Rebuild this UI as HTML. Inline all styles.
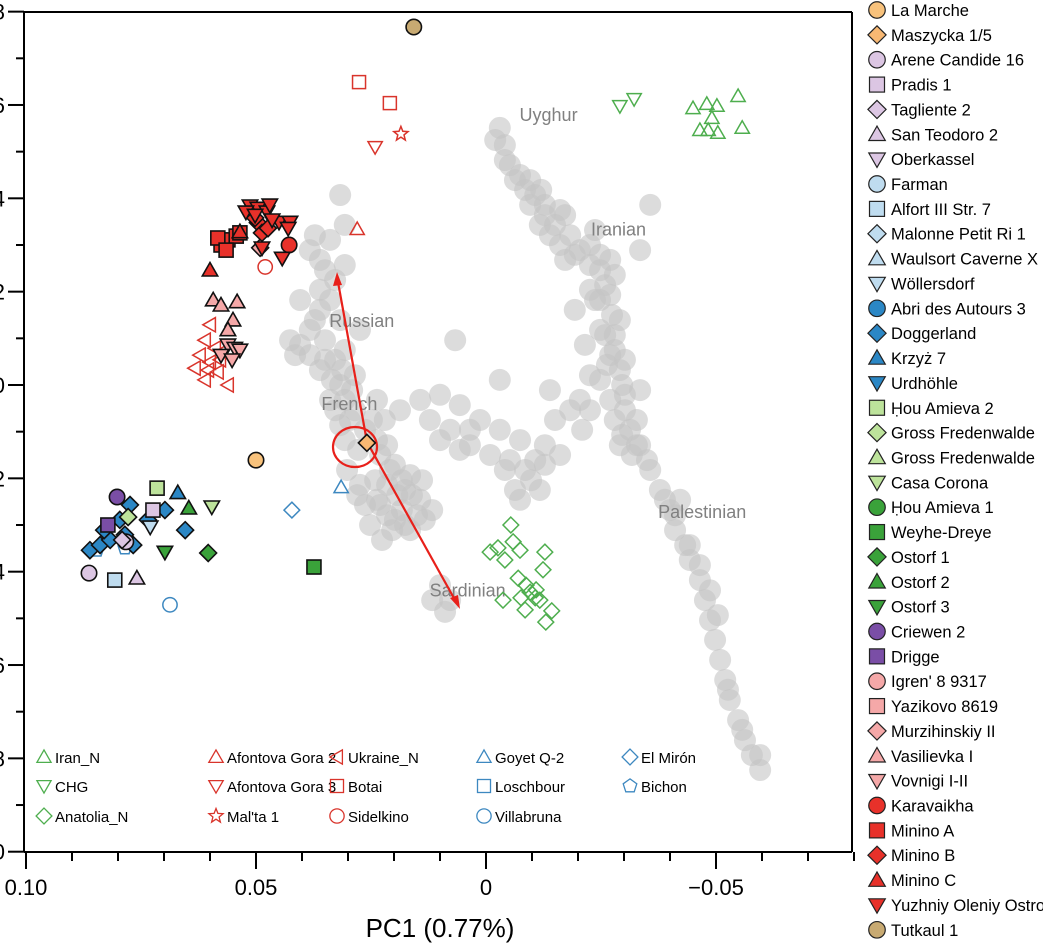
<!DOCTYPE html>
<html><head><meta charset="utf-8"><style>
body{margin:0;background:#fff;}
svg{display:block;font-family:"Liberation Sans",Arial,sans-serif;}
</style></head><body>
<svg id="chart" width="1043" height="946" viewBox="0 0 1043 946" xmlns="http://www.w3.org/2000/svg">
<g id="grey"></g>
<g id="greyLabels"></g>
<g id="anno">
<ellipse cx="355" cy="447" rx="22" ry="20" fill="none" stroke="#e8201a" stroke-width="2.2"/>
<line x1="367" y1="442" x2="338" y2="282" stroke="#e8201a" stroke-width="2.2"/>
<polygon points="337,272 333,286 342,285" fill="#e8201a"/>
<line x1="367" y1="442" x2="455" y2="600" stroke="#e8201a" stroke-width="2.2"/>
<polygon points="460,609 450,598 458,595" fill="#e8201a"/>
</g>
<g id="pts"></g>
<g id="axes"></g>
<g id="legIn"></g>
<g id="legR"></g>
</svg>
<script>
// ---------- data ----------
const xTickValues=[0.10,0.05,0,-0.05];
const xTickLabels=["0.10","0.05","0","\u22120.05"];
const yTickValues=[0.08,0.06,0.04,0.02,0,-0.02,-0.04,-0.06,-0.08,-0.10];
const yTickLabels=["0.08","0.06","0.04","0.02","0","\u22120.02","\u22120.04","\u22120.06","\u22120.08","\u22120.10"];
// grey cloud (PC1, PC2 in thousandths)
const greyPC1=[-3.0,-4.1,-5.2,-6.3,-8.5,-10.7,-12.8,-11.7,-13.9,-16.1,-17.2,-19.3,-22.6,-24.8,-27.0,-25.9,-24.8,-27.4,-25.9,-28.0,-29.1,-30.2,-28.0,-31.3,-33.5,-29.1,-22.6,-35.7,-33.5,-19.3,-21.5,-22.6,-24.8,-33.5,-23.7,
-35.7,-37.8,-40.0,-41.1,-43.3,-44.3,-46.5,-47.6,-48.7,-49.8,-50.9,-52.0,-53.0,-54.8,-56.3,-57.8,-59.6,-42.2,
-7.4,-5.2,-8.5,-10.7,-12.8,-16.1,-15.0,-18.3,-20.4,-3.0,1.3,5.7,10.0,14.3,18.7,22.0,7.8,3.5,-11.7,-7.4,-13.9,-3.0,3.5,
31.7,30.7,33.9,35.0,36.1,33.9,40.4,37.2,40.4,35.0,32.8,36.1,31.7,30.7,32.8,29.6,26.3,30.7,27.8,23.0,19.8,16.5,17.6,14.3,13.3,16.5,19.8,23.0,26.3,25.2,27.4,24.1,37.2,30.7,27.4,28.5,23.7,
10.0,7.8,8.9,11.7,38.3,6.7,
-2.0,-4.1,-7.4,-9.6,-12.0,-9.6,-12.8,-15.0,-16.1,-18.3,-20.4,-17.2,-22.6,-24.8,-28.0,-23.7,-27.0,-29.1,-24.8,-28.0,-27.0,-30.2,-26.3,-29.6,-27.0,-30.2,-32.8,-29.6,-32.8,-35.0,-31.7,
-38.9,-41.1,-44.3,-46.5,-48.7,-50.4,-52.6,-55.7,-59.6,
36.1,32.8,36.1,31.7,38.3,42.6,41.5,38.3,35.0,30.7,33.5,31.3,29.1,33.9,28.5,31.7,24.8,23.7,21.5,
20.9,18.3,16.1,19.3,21.5,13.9,15.0,18.3,21.5,23.7,20.4,17.6,11.7,22.6,28.0,30.2,
12.2,10.0,5.7,-0.9,-4.1,-9.8,-6.3,-12.8,-20.9,-22.6];
const greyPC2=[55.1,51.4,47.1,43.9,41.8,40.7,38.6,34.3,32.1,30.0,36.4,27.9,30.0,24.6,26.8,21.4,18.2,15.0,10.7,7.5,3.2,-2.1,-7.5,-9.6,-12.9,-12.9,20.4,38.6,28.9,16.1,8.6,2.1,1.1,-1.1,33.2,
-18.2,-22.5,-26.8,-31.1,-34.3,-37.5,-41.8,-46.1,-50.4,-54.6,-58.9,-63.2,-67.5,-71.8,-76.1,-79.3,-82.5,-24.6,
-11.8,-16.1,-18.2,-16.1,-12.9,-15.0,-7.5,-5.4,-3.2,-9.6,-7.5,-4.3,-2.1,-3.2,-5.4,-7.5,-9.6,-12.9,-22.5,-24.6,-1.1,1.1,-9.6,
40.7,34.3,31.1,24.6,20.4,18.2,18.2,13.9,8.6,9.6,5.4,3.2,0,-3.2,-5.4,-7.5,-9.6,-11.8,-13.9,-15.0,-17.1,-19.3,-22.5,-24.6,-28.9,-31.1,-28.9,-25.7,-25.7,-30.0,-21.4,-20.4,32.1,25.7,11.8,2.1,-3.2,
-42.9,-46.1,-48.6,-46.1,28.9,9.6,
52.5,48.2,45.0,43.9,41.8,38.6,36.4,34.3,37.5,32.1,28.9,26.8,25.7,27.9,23.6,18.2,19.3,13.9,11.8,10.7,6.4,5.4,4.3,0,-3.2,-5.4,-7.5,-10.7,-12.9,-16.1,-15.0,
-24.6,-27.9,-34.3,-38.6,-44.0,-49.3,-65.3,-73.9,-79.3,
26.8,22.5,16.1,13.9,11.8,9.6,6.4,6.4,5.4,7.5,1.1,3.2,-1.1,-3.2,-5.4,-8.6,-7.5,-11.8,-12.9,
-18.2,-20.4,-23.6,-23.6,-21.4,-20.4,-27.9,-26.8,-27.9,-24.6,-31.1,-30.0,-26.8,-33.2,-23.6,-18.2,
-7.5,-11.8,-13.9,-15.0,-18.2,-20.4,-22.5,-17.1,-9.6,-5.4];
const greyNames=["Uyghur","Iranian","Russian","French","Palestinian","Sardinian"];
const greyNamePC1=[-13.6,-28.8,27.0,29.7,-47.0,4.0];
const greyNamePC2=[56.6,32.0,12.4,-5.4,-28.5,-45.3];
const groupNames=["Iran_N","CHG","Anatolia_N","Afontova Gora 2","Afontova Gora 3","Botai","Mal'ta 1","Sidelkino","Ukraine_N","Goyet Q-2","El Mirón","Villabruna","Bichon",
"Vasilievka I","Vovnigi I-II","Murzihinskiy II","Karavaikha","Minino A","Minino B","Minino C","Yuzhniy Oleniy Ostrov","Tutkaul 1","La Marche","Maszycka 1/5",
"Doggerland","Krzyż 7","Wöllersdorf","Alfort III Str. 7","Criewen 2","Drigge","Arene Candide 16","Pradis 1","San Teodoro 2","Tagliente 2","Ḥou Amieva 2","Gross Fredenwalde","Casa Corona","Weyhe-Dreye","Ostorf 1","Ostorf 2","Ostorf 3"];
const groupShape=["tu","td","di","tu","td","sq","st","ci","tl","tu","di","ci","pe",
"tu","td","di","ci","sq","di","tu","td","ci","ci","di",
"di","tu","td","sq","ci","sq","ci","sq","tu","di","sq","di","td","sq","di","tu","td"];
const groupColor=["#4eae4e","#4eae4e","#4eae4e","#d9342b","#d9342b","#d9342b","#d9342b","#d9342b","#d9342b","#3d88c0","#3d88c0","#3d88c0","#3d88c0",
"#f5a8a8","#f5a8a8","#f5a8a8","#e8312a","#e8312a","#e8312a","#e8312a","#e8312a","#c8aa72","#f8c27c","#f8b873",
"#2b87c5","#2b87c5","#bfdcef","#bfdcef","#7a4ea6","#7a4ea6","#dcc6e3","#dcc6e3","#dcc6e3","#dcc6e3","#bde39b","#bde39b","#bde39b","#3aa23a","#3aa23a","#3aa23a","#3aa23a"];
const groupHollow=[1,1,1,1,1,1,1,1,1,1,1,1,1,0,0,0,0,0,0,0,0,0,0,0,0,0,0,0,0,0,0,0,0,0,0,0,0,0,0,0,0];
const groupPC1=[
[-45.0,-48.0,-50.2,-54.8,-46.5,-48.3,-50.4,-55.7,-49.1],
[-29.1,-32.2],
[-5.4,-0.9,-2.6,-4.1,-5.9,-7.4,-12.8,-12.4,-8.7,-9.6,-10.7,-7.6,-11.7,-8.5,-14.3,-13.0,-3.7,-7.0,-10.9],
[28.0],[24.1],[27.6,20.9],[18.5],[48.0],
[60.0,61.1,58.9,62.2,60.0,57.8,63.3,60.4,58.3,56.1,61.1,57.4],
[31.5],[42.2],[68.7],[84.6,78.5],
[59.3,57.6,54.1,55.0,56.1],[56.1,54.6,57.6,53.5,55.2],[49.1],[42.8],
[57.6,56.1,54.3,58.3,53.5,56.5],[49.6,48.7,50.2,47.4],[60.0,53.5],
[51.3,49.6,47.6,45.0,42.6,46.5,48.7,44.3,52.2,50.2,43.0,47.0],
[15.7],[50.0],[25.9],
[86.1,83.9,81.7,78.5,77.4,79.6,73.5,69.8,65.4,76.7,83.0],[67.0],[73.0],[80.7],[80.2],[82.2],[86.3,78.3],[72.4],[75.9],[79.1],[71.5],[77.8],[59.6],[37.4],[60.4],[64.6],[69.8]];
const groupPC2=[
[59.3,60.2,59.8,61.9,54.6,54.6,54.0,55.1,57.2],
[59.8,61.3],
[-30.0,-35.8,-34.9,-37.5,-33.6,-35.4,-35.8,-39.6,-42.9,-44.4,-45.6,-45.6,-46.1,-48.2,-48.4,-50.8,-46.1,-41.4,-43.9],
[33.4],[51.0],[64.9,60.4],[53.8],[25.3],
[12.9,9.6,7.9,6.4,4.9,5.4,3.6,3.2,2.8,0,1.1,7.1],
[-21.9],[-26.8],[-47.1],[-35.4,-34.9],
[18.2,17.1,17.8,13.9,11.8],[8.6,7.9,6.4,7.5,5.4],[29.4],[30.0],
[30.0,31.1,31.9,31.5,32.6,28.9],[34.8,32.6,35.8,33.6],[24.6,32.8],
[38.4,37.9,37.1,34.9,34.9,35.4,29.4,27.2,37.1,36.4,33.6,38.6],
[76.7],[-16.1],[-12.4],
[-35.4,-34.3,-33.2,-32.1,-25.7,-28.9,-28.9,-26.8,-31.1,-34.3,-31.1],[-23.1],[-30.4],[-41.8],[-24.0],[-30.0],[-40.3,-33.6],[-26.8],[-41.4],[-33.2],[-22.1],[-28.3],[-26.1],[-39.0],[-36.0],[-26.4],[-35.8]];
const innerLegNames=["Iran_N","CHG","Anatolia_N","Afontova Gora 2","Afontova Gora 3","Mal'ta 1","Ukraine_N","Botai","Sidelkino","Goyet Q-2","Loschbour","Villabruna","El Mirón","Bichon"];
const innerLegShape=["tu","td","di","tu","td","st","tl","sq","ci","tu","sq","ci","di","pe"];
const innerLegColor=["#4eae4e","#4eae4e","#4eae4e","#d9342b","#d9342b","#d9342b","#d9342b","#d9342b","#d9342b","#3d88c0","#3d88c0","#3d88c0","#3d88c0","#3d88c0"];
const rightLegNames=["La Marche","Maszycka 1/5","Arene Candide 16","Pradis 1","Tagliente 2","San Teodoro 2","Oberkassel","Farman","Alfort III Str. 7","Malonne Petit Ri 1","Waulsort Caverne X","Wöllersdorf","Abri des Autours 3","Doggerland","Krzyż 7","Urdhöhle","Ḥou Amieva 2","Gross Fredenwalde","Gross Fredenwalde","Casa Corona","Ḥou Amieva 1","Weyhe-Dreye","Ostorf 1","Ostorf 2","Ostorf 3","Criewen 2","Drigge","Igren' 8 9317","Yazikovo 8619","Murzihinskiy II","Vasilievka I","Vovnigi I-II","Karavaikha","Minino A","Minino B","Minino C","Yuzhniy Oleniy Ostrov","Tutkaul 1"];
const rightLegShape=["ci","di","ci","sq","di","tu","td","ci","sq","di","tu","td","ci","di","tu","td","sq","di","tu","td","ci","sq","di","tu","td","ci","sq","ci","sq","di","tu","td","ci","sq","di","tu","td","ci"];
const rightLegColor=["#f8c27c","#f8b873","#dcc6e3","#dcc6e3","#dcc6e3","#dcc6e3","#dcc6e3","#bfdcef","#bfdcef","#bfdcef","#bfdcef","#bfdcef","#2b87c5","#2b87c5","#2b87c5","#2b87c5","#bde39b","#bde39b","#bde39b","#bde39b","#3aa23a","#3aa23a","#3aa23a","#3aa23a","#3aa23a","#7a4ea6","#7a4ea6","#f5a8a8","#f5a8a8","#f5a8a8","#f5a8a8","#f5a8a8","#e8312a","#e8312a","#e8312a","#e8312a","#e8312a","#c8aa72"];

// ---------- scales ----------
const X0=486,XS=4600,Y0=385,YS=4667;
function xs(v){return X0-v*XS;}
function ys(v){return Y0-v*YS;}
const NS="http://www.w3.org/2000/svg";
function mk(tag,attrs,parent){const e=document.createElementNS(NS,tag);for(const k in attrs)e.setAttribute(k,attrs[k]);parent.appendChild(e);return e;}
function shapeEl(type,cx,cy,s,fill,stroke,sw,parent){
  let e;
  if(type==="ci") e=mk("circle",{cx:cx,cy:cy,r:s*0.55},parent);
  else if(type==="sq") e=mk("rect",{x:cx-s*0.5,y:cy-s*0.5,width:s,height:s},parent);
  else {
    let p;
    const h=s*0.55;
    if(type==="di") p=[[0,-h*1.1],[h*1.1,0],[0,h*1.1],[-h*1.1,0]];
    else if(type==="tu") p=[[0,-h],[h,h*0.75],[-h,h*0.75]];
    else if(type==="td") p=[[0,h],[h,-h*0.75],[-h,-h*0.75]];
    else if(type==="tl") p=[[-h,0],[h*0.75,-h],[h*0.75,h]];
    else if(type==="pe"){p=[];for(let i=0;i<5;i++){const a=-Math.PI/2+i*2*Math.PI/5;p.push([h*Math.cos(a),h*Math.sin(a)]);}}
    else if(type==="st"){p=[];for(let i=0;i<10;i++){const a=-Math.PI/2+i*Math.PI/5;const r=i%2?h*0.45:h*1.05;p.push([r*Math.cos(a),r*Math.sin(a)]);}}
    e=mk("polygon",{points:p.map(q=>(cx+q[0]).toFixed(1)+","+(cy+q[1]).toFixed(1)).join(" ")},parent);
  }
  e.setAttribute("fill",fill);e.setAttribute("stroke",stroke);e.setAttribute("stroke-width",sw);
  return e;
}

const gG=document.getElementById("grey");
for(let i=0;i<greyPC1.length;i++){
  const c=mk("circle",{cx:xs(greyPC1[i]/1000),cy:ys(greyPC2[i]/1000),r:11,fill:"#c4c4c4","fill-opacity":0.6},gG);
  
  
}
const gL=document.getElementById("greyLabels");
for(let i=0;i<greyNames.length;i++){
  const t=mk("text",{x:xs(greyNamePC1[i]/1000),y:ys(greyNamePC2[i]/1000),"font-size":18,fill:"#808080","text-anchor":"middle"},gL);
  t.textContent=greyNames[i];
  
  
}
const gP=document.getElementById("pts");
for(let g=0;g<groupNames.length;g++){
  for(let j=0;j<groupPC1[g].length;j++){
    const hol=groupHollow[g];
    const e=shapeEl(groupShape[g],xs(groupPC1[g][j]/1000),ys(groupPC2[g][j]/1000),hol?13:14,hol?"none":groupColor[g],hol?groupColor[g]:"#111",hol?1.5:1.6,gP);
    
    
  }
}
const gA=document.getElementById("axes");
mk("line",{x1:24,y1:12,x2:24,y2:852,stroke:"#000","stroke-width":2},gA);
mk("line",{x1:24,y1:852,x2:852,y2:852,stroke:"#000","stroke-width":2},gA);
mk("line",{x1:24,y1:12,x2:852,y2:12,stroke:"#000","stroke-width":2},gA);
mk("line",{x1:852,y1:12,x2:852,y2:852,stroke:"#000","stroke-width":2},gA);
for(let k=-8;k<=10;k++){
  const v=k/100,x=xs(v),major=(k%5===0);
  mk("line",{x1:x,y1:852,x2:x,y2:major?869:861,stroke:"#000","stroke-width":2},gA);
}
xTickValues.forEach((v,i)=>{
  const t=mk("text",{x:xs(v),y:895,"font-size":22,"text-anchor":"middle",fill:"#000"},gA);
  t.textContent=xTickLabels[i];
  
  
});
for(let k=-10;k<=8;k++){
  const y=ys(k/100),major=(k%2===0);
  mk("line",{x1:major?8:16,y1:y,x2:24,y2:y,stroke:"#000","stroke-width":2},gA);
}
yTickValues.forEach((v,i)=>{
  const t=mk("text",{x:5,y:ys(v)+8,"font-size":22,"text-anchor":"end",fill:"#000"},gA);
  t.textContent=yTickLabels[i];
  
  
});
const xt=mk("text",{x:440,y:937,"font-size":26,"text-anchor":"middle",fill:"#000"},gA);
xt.textContent="PC1 (0.77%)";


const gI=document.getElementById("legIn");
const colX=[44,216,337,484,630],rowY=[757,786,816];
const innerCol=[0,0,0,1,1,1,2,2,2,3,3,3,4,4],innerRow=[0,1,2,0,1,2,0,1,2,0,1,2,0,1];
for(let i=0;i<innerLegNames.length;i++){
  const cx=colX[innerCol[i]],cy=rowY[innerRow[i]];
  const e=shapeEl(innerLegShape[i],cx,cy,13,"none",innerLegColor[i],1.3,gI);
  
  
  const t=mk("text",{x:cx+11,y:cy+6,"font-size":15,fill:"#000"},gI);
  t.textContent=innerLegNames[i];
  
  
}
const gR=document.getElementById("legR");
for(let i=0;i<rightLegNames.length;i++){
  const cy=10+i*24.86;
  const e=shapeEl(rightLegShape[i],877,cy,15,rightLegColor[i],"#222",1.2,gR);
  
  
  const t=mk("text",{x:891,y:cy+6,"font-size":16.5,fill:"#000"},gR);
  t.textContent=rightLegNames[i];
  
  
}
</script>
</body></html>
